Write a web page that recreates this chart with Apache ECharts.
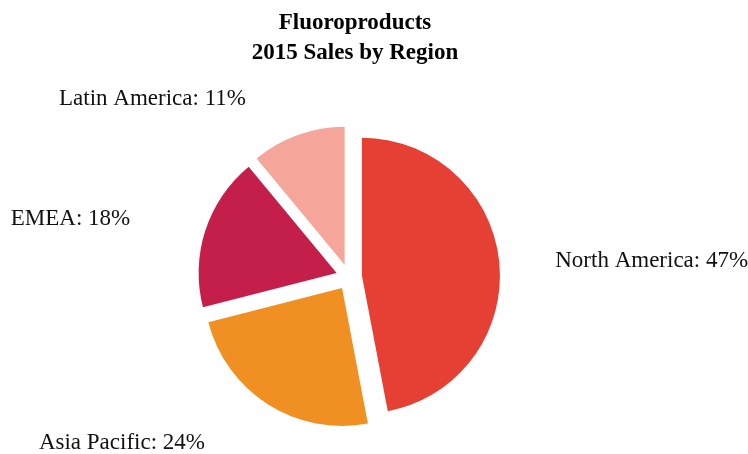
<!DOCTYPE html>
<html>
<head>
<meta charset="utf-8">
<script src="https://cdn.jsdelivr.net/npm/echarts@6/dist/echarts.min.js"></script>
<style>html,body{margin:0;padding:0;background:#fff}#c{width:748px;height:454px}</style>
</head>
<body>
<div id="c"></div>
<script>
const titleLines = ['Fluoroproducts', '2015 Sales by Region'];
const regions = ['North America', 'Asia Pacific', 'EMEA', 'Latin America'];
const shares = [47, 24, 18, 11];
const colors = ['#E63F33', '#F08F22', '#C41E4A', '#F6A59B'];
const lineLen = [21, 45, 37, 38];
const lineLen2 = [30, 34, 35, 34];

const chart = echarts.init(document.getElementById('c'));
const data = regions.map((name, i) => ({
  name: name,
  value: shares[i],
  selected: true,
  itemStyle: { color: colors[i] },
  select: { itemStyle: { color: colors[i], borderWidth: 0 } },
  labelLine: { show: false, length: lineLen[i], length2: lineLen2[i] }
}));

chart.setOption({
  animation: false,
  backgroundColor: '#fff',
  title: {
    text: titleLines.join('\n'),
    left: 350,
    top: 3,
    textAlign: 'center',
    textStyle: {
      fontFamily: 'Liberation Serif',
      fontWeight: 'bold',
      fontSize: 23,
      lineHeight: 30,
      color: '#000'
    }
  },
  series: [{
    type: 'pie',
    center: [349, 277],
    radius: 138,
    startAngle: 90,
    clockwise: true,
    selectedMode: 'multiple',
    selectedOffset: 13,
    avoidLabelOverlap: false,
    emphasis: { disabled: true },
    label: {
      show: true,
      position: 'outside',
      formatter: '{b}: {c}%',
      fontFamily: 'Liberation Serif',
      fontSize: 23,
      color: '#111',
      overflow: 'none',
      distanceToLabelLine: 5
    },
    labelLine: { show: false },
    itemStyle: { borderWidth: 0 },
    data: data
  }]
});
</script>
</body>
</html>
